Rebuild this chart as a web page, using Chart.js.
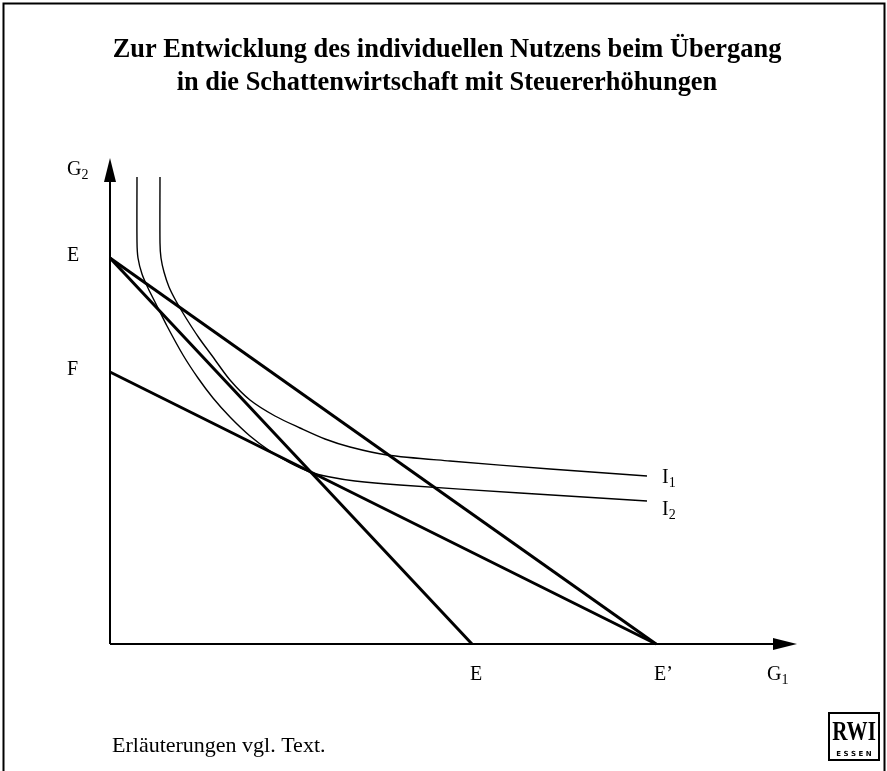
<!DOCTYPE html>
<html lang="de">
<head>
    <meta charset="UTF-8">
    <title>Nutzen beim Übergang in die Schattenwirtschaft</title>
    <script src="https://cdn.jsdelivr.net/npm/chart.js"></script>
    <style>
        html, body { margin: 0; padding: 0; background: #fff; }
        #wrap { position: relative; width: 887px; height: 771px; overflow: hidden; }
    </style>
</head>
<body>
<div id="wrap">
    <canvas id="chart" width="887" height="771"></canvas>
</div>
<script>
// Budget lines (intercepts on G1 / G2)
const budgetEx = [0, 36.2];
const budgetEy = [38.6, 0];
const budgetE2x = [0, 54.6];
const budgetE2y = [38.6, 0];
const budgetFx = [0, 54.6];
const budgetFy = [27.2, 0];

// Indifference curves
const i1x = [5.0, 5.0, 5.1, 5.4, 5.9, 6.6, 7.6, 8.9, 10.3, 12.0, 14.0, 16.5, 19.0, 21.5, 24.0, 27.7, 34.0, 44.0, 53.7];
const i1y = [46.7, 40.1, 38.6, 37.2, 35.7, 34.3, 32.6, 30.6, 28.7, 26.4, 24.4, 22.8, 21.6, 20.5, 19.7, 18.9, 18.3, 17.5, 16.8];
const i2x = [2.7, 2.7, 2.8, 3.2, 3.8, 4.6, 5.7, 7.3, 8.8, 10.3, 12.0, 14.0, 16.0, 18.0, 20.0, 22.0, 24.5, 29.0, 41.0, 53.7];
const i2y = [46.7, 40.2, 38.6, 37.0, 35.6, 34.0, 31.8, 28.9, 26.6, 24.6, 22.7, 20.8, 19.3, 18.1, 17.2, 16.7, 16.3, 15.9, 15.1, 14.3];

// Axis labels
const yTickValues = [38.6, 27.2];
const yTickLabels = ['E', 'F'];
const xTickValues = [36.2, 54.6];
const xTickLabels = ['E', 'E\u2019'];
const axisTip = { x: 68.7, y: 48.6 };

const titleLines = [
    'Zur Entwicklung des individuellen Nutzens beim \u00dcbergang',
    'in die Schattenwirtschaft mit Steuererh\u00f6hungen'
];
const footNote = 'Erl\u00e4uterungen vgl. Text.';

const serif = "'Liberation Serif', 'Times New Roman', serif";

function pts(xs, ys) {
    return xs.map((x, i) => ({ x: x, y: ys[i] }));
}

function lineSet(xs, ys, width, tension) {
    return {
        data: pts(xs, ys),
        showLine: true,
        borderColor: '#000',
        borderWidth: width,
        pointRadius: 0,
        tension: tension,
        fill: false,
        clip: false
    };
}

// subscripted label like G2, I1
function subLabel(ctx, main, sub, x, y) {
    ctx.font = '20px ' + serif;
    ctx.textAlign = 'left';
    ctx.textBaseline = 'alphabetic';
    ctx.fillText(main, x, y);
    const w = ctx.measureText(main).width;
    ctx.font = '14px ' + serif;
    ctx.fillText(sub, x + w, y + 4);
}

const decor = {
    id: 'decor',
    afterDraw(chart) {
        const ctx = chart.ctx;
        const xs = chart.scales.x, ys = chart.scales.y;
        const ox = xs.getPixelForValue(0), oy = ys.getPixelForValue(0);
        const tx = xs.getPixelForValue(axisTip.x), ty = ys.getPixelForValue(axisTip.y);
        ctx.save();
        ctx.fillStyle = '#000';
        ctx.strokeStyle = '#000';

        // frame
        ctx.lineWidth = 2;
        ctx.beginPath();
        ctx.moveTo(3.5, 771);
        ctx.lineTo(3.5, 3.5);
        ctx.lineTo(884.5, 3.5);
        ctx.lineTo(884.5, 771);
        ctx.stroke();

        // axes with arrows
        ctx.lineWidth = 2;
        ctx.beginPath();
        ctx.moveTo(ox, oy);
        ctx.lineTo(ox, ty + 10);
        ctx.moveTo(ox, oy);
        ctx.lineTo(tx - 10, oy);
        ctx.stroke();
        ctx.beginPath();
        ctx.moveTo(ox, ty);
        ctx.lineTo(ox - 6, ty + 24);
        ctx.lineTo(ox + 6, ty + 24);
        ctx.closePath();
        ctx.fill();
        ctx.beginPath();
        ctx.moveTo(tx, oy);
        ctx.lineTo(tx - 24, oy - 6);
        ctx.lineTo(tx - 24, oy + 6);
        ctx.closePath();
        ctx.fill();

        // tick labels
        ctx.font = '20px ' + serif;
        ctx.textBaseline = 'alphabetic';
        ctx.textAlign = 'left';
        yTickValues.forEach((v, i) => {
            ctx.fillText(yTickLabels[i], 67, ys.getPixelForValue(v) + 3);
        });
        xTickValues.forEach((v, i) => {
            ctx.fillText(xTickLabels[i], xs.getPixelForValue(v) - 2, oy + 36);
        });
        subLabel(ctx, 'G', '2', 67, ty + 17);
        subLabel(ctx, 'G', '1', tx - 30, oy + 36);
        subLabel(ctx, 'I', '1', xs.getPixelForValue(i1x[i1x.length - 1]) + 15, ys.getPixelForValue(i1y[i1y.length - 1]) + 7);
        subLabel(ctx, 'I', '2', xs.getPixelForValue(i2x[i2x.length - 1]) + 15, ys.getPixelForValue(i2y[i2y.length - 1]) + 14);

        // title
        ctx.font = 'bold 26.4px ' + serif;
        ctx.textAlign = 'center';
        ctx.fillText(titleLines[0], 447, 57);
        ctx.fillText(titleLines[1], 447, 90);

        // footnote
        ctx.font = '22px ' + serif;
        ctx.textAlign = 'left';
        ctx.fillText(footNote, 112, 752);

        // RWI logo
        ctx.lineWidth = 2;
        ctx.strokeRect(829, 713, 50, 47);
        ctx.save();
        ctx.translate(854, 740);
        ctx.scale(0.78, 1);
        ctx.font = 'bold 27px ' + serif;
        ctx.textAlign = 'center';
        ctx.fillText('RWI', 0, 0);
        ctx.restore();
        ctx.font = 'bold 7px DejaVu Sans';
        ctx.textAlign = 'center';
        ctx.fillText('E S S E N', 854, 756);
        ctx.restore();
    }
};

new Chart(document.getElementById('chart').getContext('2d'), {
    type: 'scatter',
    data: {
        datasets: [
            lineSet(budgetEx, budgetEy, 3, 0),
            lineSet(budgetE2x, budgetE2y, 3, 0),
            lineSet(budgetFx, budgetFy, 3, 0),
            lineSet(i1x, i1y, 1.4, 0.3),
            lineSet(i2x, i2y, 1.4, 0.3)
        ]
    },
    options: {
        responsive: false,
        animation: false,
        layout: { autoPadding: false, padding: { left: 110, right: 77, top: 144, bottom: 127 } },
        scales: {
            x: { type: 'linear', min: 0, max: 70, display: false },
            y: { type: 'linear', min: 0, max: 50, display: false }
        },
        plugins: { legend: { display: false }, tooltip: { enabled: false } }
    },
    plugins: [decor]
});
</script>
</body>
</html>
